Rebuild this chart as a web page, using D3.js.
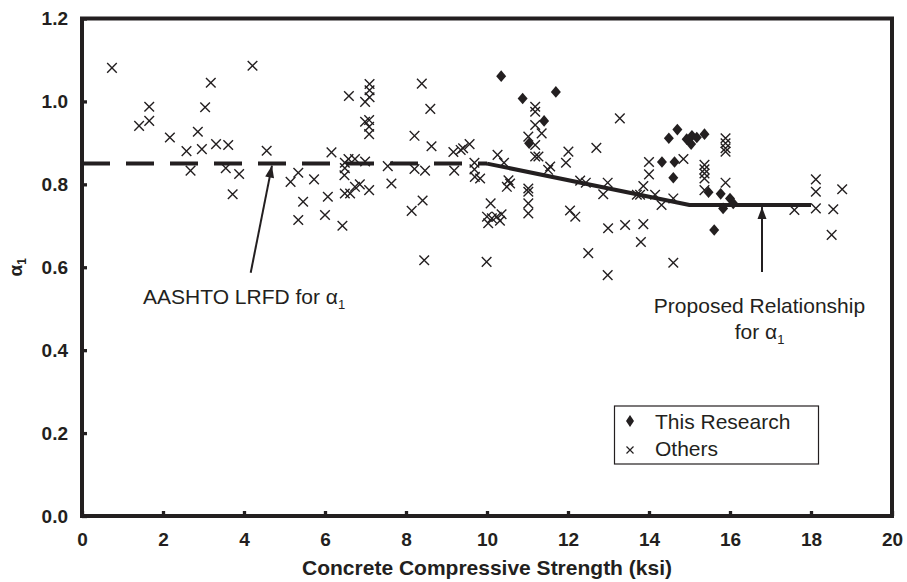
<!DOCTYPE html>
<html>
<head>
<meta charset="utf-8">
<script src="https://cdn.jsdelivr.net/npm/d3@7"></script>
<style>
body { margin: 0; background: #fff; }
svg text { font-family: "Liberation Sans", Arial, sans-serif; fill: #231f20; }
</style>
</head>
<body>
<div id="chart"></div>
<script>
// test data: [f'c (ksi), alpha1]
var thisResearch = [
	[10.35,1.061],[10.88,1.007],[11.70,1.023],[11.41,0.953],[11.04,0.899],
	[14.49,0.911],[14.70,0.932],[14.93,0.909],[15.06,0.917],[15.04,0.897],
	[15.18,0.913],[15.37,0.921],[14.32,0.854],[14.63,0.854],[14.60,0.816],
	[15.47,0.781],[15.77,0.777],[15.83,0.742],[15.61,0.690],[16.00,0.766],[16.08,0.754]
];
var others = [
	[0.74,1.081],[4.21,1.086],[3.18,1.045],[1.66,0.987],[3.04,0.986],[1.41,0.941],[1.66,0.953],
	[2.17,0.913],[2.86,0.927],[2.58,0.880],[2.96,0.885],[3.31,0.897],[3.61,0.895],[4.56,0.881],
	[2.68,0.833],[3.55,0.839],[3.88,0.825],[3.72,0.776],
	[5.15,0.806],[5.34,0.828],[5.46,0.758],[5.34,0.714],[5.73,0.812],[6.07,0.770],[6.00,0.726],[6.43,0.700],
	[6.16,0.877],[6.59,1.013],[6.58,0.861],[6.74,0.861],[6.99,0.855],[6.49,0.852],[6.49,0.839],[6.48,0.822],
	[6.49,0.778],[6.62,0.778],[6.74,0.794],[6.86,0.800],[7.09,0.786],
	[7.10,1.042],[7.10,1.027],[7.10,1.010],[6.99,0.999],[6.99,0.951],[7.09,0.955],[7.09,0.939],[7.09,0.921],
	[7.55,0.844],[7.64,0.802],[8.21,0.917],[8.39,1.043],[8.60,0.982],[8.63,0.892],[8.21,0.837],[8.47,0.833],
	[8.14,0.736],[8.41,0.761],[8.45,0.617],
	[9.17,0.878],[9.35,0.883],[9.41,0.887],[9.57,0.897],[9.19,0.833],
	[9.69,0.852],[9.69,0.836],[9.70,0.818],[9.83,0.814],
	[9.99,0.613],[10.09,0.754],[10.00,0.722],[10.12,0.718],[10.24,0.722],[10.36,0.728],[10.03,0.706],[10.32,0.712],
	[10.26,0.871],[10.42,0.852],[10.53,0.810],[10.57,0.802],[10.49,0.794],
	[11.02,0.790],[11.02,0.782],[11.02,0.754],[11.02,0.730],
	[11.19,0.987],[11.19,0.975],[11.19,0.943],[11.02,0.915],[11.35,0.923],[11.19,0.895],[11.27,0.867],
	[11.19,0.867],[11.56,0.843],[11.51,0.835],
	[12.01,0.879],[11.95,0.852],[12.70,0.888],[13.28,0.959],[12.30,0.809],[12.44,0.804],[12.98,0.804],
	[12.87,0.776],[12.05,0.737],[12.18,0.722],[12.99,0.694],[13.41,0.702],[13.86,0.704],[13.80,0.661],
	[12.50,0.634],[12.98,0.581],[14.60,0.611],
	[14.00,0.854],[14.00,0.824],[13.86,0.796],[13.70,0.775],[13.78,0.775],[14.15,0.775],[14.31,0.750],
	[14.60,0.766],[14.85,0.861],
	[15.37,0.847],[15.37,0.836],[15.37,0.826],[15.37,0.814],[15.37,0.786],
	[15.89,0.911],[15.89,0.899],[15.89,0.887],[15.89,0.879],[15.89,0.804],
	[18.12,0.812],[18.12,0.782],[18.12,0.742],[18.77,0.788],[17.59,0.738],[18.55,0.740],[18.51,0.678]
];
var aashtoLine = [[0,0.85],[10,0.85]];
var proposedLine = [[10,0.85],[15,0.75],[18,0.75]];
var xTicks = [0,2,4,6,8,10,12,14,16,18,20];
var yTicks = [0,0.2,0.4,0.6,0.8,1.0,1.2];

var width = 907, height = 582;
var padding = {top: 18.5, bottom: 66, left: 82, right: 15};
var ink = "#231f20";

var svg = d3.select("#chart").append("svg").attr("width", width).attr("height", height);

var x = d3.scaleLinear().domain([0, 20]).range([padding.left, width - padding.right]);
var y = d3.scaleLinear().domain([0, 1.2]).range([height - padding.bottom, padding.top]);

// axes, ticks pointing inwards
var xAxis = d3.axisBottom(x).tickValues(xTicks).tickSizeInner(-5).tickSizeOuter(0).tickPadding(17).tickFormat(d3.format("d"));
var yAxis = d3.axisLeft(y).tickValues(yTicks).tickSizeInner(-5).tickSizeOuter(0).tickPadding(14).tickFormat(d3.format(".1f"));

var gx = svg.append("g").attr("transform", "translate(0," + y(0) + ")").call(xAxis);
var gy = svg.append("g").attr("transform", "translate(" + x(0) + ",0)").call(yAxis);
[gx, gy].forEach(function(g) {
	g.select(".domain").remove();
	g.selectAll(".tick line").style("stroke", ink).style("stroke-width", 3.3);
	g.selectAll(".tick text").style("font-size", "19px").style("font-weight", "bold").style("fill", ink);
});

// frame
svg.append("rect")
	.attr("x", x(0)).attr("y", y(1.2))
	.attr("width", x(20) - x(0)).attr("height", y(0) - y(1.2))
	.style("fill", "none").style("stroke", ink).style("stroke-width", 4);

// axis titles
svg.append("text")
	.attr("x", (x(0) + x(20)) / 2)
	.attr("y", 575)
	.style("text-anchor", "middle")
	.style("font-size", "21px").style("font-weight", "bold")
	.text("Concrete Compressive Strength (ksi)");

var yt = svg.append("text")
	.attr("transform", "translate(22," + y(0.6) + ") rotate(-90)")
	.style("text-anchor", "middle")
	.style("font-size", "19px").style("font-weight", "bold");
yt.append("tspan").text("\u03b1");
yt.append("tspan").attr("dy", 4).style("font-size", "12px").text("1");

// reference lines
var line = d3.line().x(function(d) { return x(d[0]); }).y(function(d) { return y(d[1]); });
svg.append("path").datum(aashtoLine).attr("d", line)
	.style("fill", "none").style("stroke", ink).style("stroke-width", 4)
	.style("stroke-dasharray", "28,16");
svg.append("path").datum(proposedLine).attr("d", line)
	.style("fill", "none").style("stroke", ink).style("stroke-width", 4)
	.style("stroke-linejoin", "round");

// markers
function crossPath(s) {
	return "M" + (-s) + "," + (-s) + "L" + s + "," + s + "M" + (-s) + "," + s + "L" + s + "," + (-s);
}
function diamondPath(w, h) {
	return "M0," + (-h) + "L" + w + ",0L0," + h + "L" + (-w) + ",0Z";
}
svg.append("g").selectAll("path").data(others).enter().append("path")
	.attr("transform", function(d) { return "translate(" + x(d[0]) + "," + y(d[1]) + ")"; })
	.attr("d", crossPath(4.8))
	.style("fill", "none").style("stroke", ink).style("stroke-width", 1.4);
svg.append("g").selectAll("path").data(thisResearch).enter().append("path")
	.attr("transform", function(d) { return "translate(" + x(d[0]) + "," + y(d[1]) + ")"; })
	.attr("d", diamondPath(5, 5.8))
	.style("fill", ink).style("stroke", "none");

// annotations with arrows
function arrow(x1, y1, x2, y2) {
	svg.append("line").attr("x1", x1).attr("y1", y1).attr("x2", x2).attr("y2", y2)
		.style("stroke", ink).style("stroke-width", 2);
	var a = Math.atan2(y2 - y1, x2 - x1);
	var len = 12, half = 4.5;
	var bx = x2 - len * Math.cos(a), by = y2 - len * Math.sin(a);
	svg.append("path")
		.attr("d", "M" + x2 + "," + y2 +
			"L" + (bx + half * Math.sin(a)) + "," + (by - half * Math.cos(a)) +
			"L" + (bx - half * Math.sin(a)) + "," + (by + half * Math.cos(a)) + "Z")
		.style("fill", ink);
}
arrow(250.7, 272.7, x(4.69), y(0.85) + 2);
arrow(x(16.79), 272, x(16.79), y(0.75) + 2);

function label(tx, ty, anchor, main) {
	var t = svg.append("text").attr("x", tx).attr("y", ty).style("text-anchor", anchor).style("font-size", "21px");
	t.append("tspan").text(main + "\u03b1");
	t.append("tspan").attr("dy", 5).style("font-size", "13px").text("1");
	return t;
}
label(143, 304, "start", "AASHTO LRFD for ");
svg.append("text").attr("x", 759.5).attr("y", 313).style("text-anchor", "middle").style("font-size", "21px")
	.text("Proposed Relationship");
label(759.5, 339, "middle", "for ");

// legend
var lg = svg.append("g");
lg.append("rect").attr("x", 614.5).attr("y", 406).attr("width", 204).attr("height", 58)
	.style("fill", "#fff").style("stroke", ink).style("stroke-width", 1.2);
lg.append("path").attr("transform", "translate(630,421)").attr("d", diamondPath(4, 6)).style("fill", ink);
lg.append("path").attr("transform", "translate(630,450)").attr("d", crossPath(3.5))
	.style("fill", "none").style("stroke", ink).style("stroke-width", 1.2);
lg.append("text").attr("x", 655).attr("y", 428.5).style("font-size", "21px").text("This Research");
lg.append("text").attr("x", 655).attr("y", 456).style("font-size", "21px").text("Others");
</script>
</body>
</html>
